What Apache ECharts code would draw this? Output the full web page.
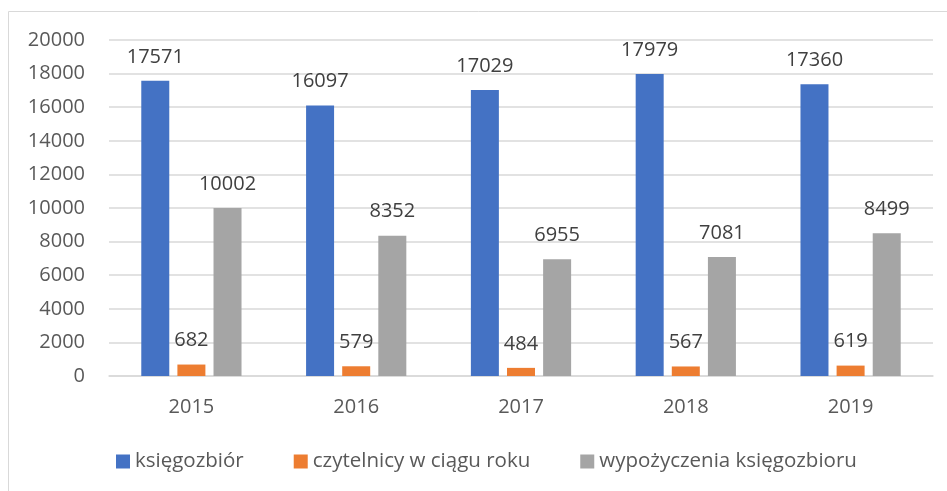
<!DOCTYPE html>
<html>
<head>
<meta charset="utf-8">
<script src="https://cdn.jsdelivr.net/npm/echarts@6/dist/echarts.min.js"></script>
<style>
  html, body { margin: 0; padding: 0; background: #fff; }
  #chart-container { width: 947px; height: 491px; }
</style>
</head>
<body>
<div id="chart-container"></div>
<script>
const years = ['2015', '2016', '2017', '2018', '2019']
const ksiegozbior = [17571, 16097, 17029, 17979, 17360]
const czytelnicy = [682, 579, 484, 567, 619]
const wypozyczenia = [10002, 8352, 6955, 7081, 8499]

const font = 'Open Sans'

const dom = document.getElementById('chart-container')
const myChart = echarts.init(dom, null, { renderer: 'canvas' })

const label = {
  show: true,
  position: 'top',
  distance: 14,
  fontFamily: font,
  fontSize: 20,
  color: '#404040'
}

const mkSeries = (name, color, data) => ({
  name,
  type: 'bar',
  barWidth: 28,
  barGap: '29%',
  itemStyle: { color },
  label,
  data
})

const options = {
  animation: false,
  graphic: [{
    type: 'rect',
    shape: { x: 8.5, y: 11.5, width: 1000, height: 600 },
    style: { fill: 'none', stroke: '#d9d9d9', lineWidth: 1 },
    silent: true
  }],
  grid: { left: 109, right: 14, top: 40, bottom: 115 },
  legend: {
    bottom: 14,
    left: 111,
    icon: 'rect',
    itemWidth: 14,
    itemHeight: 14,
    itemGap: 50,
    textStyle: { fontFamily: font, fontSize: 20.5, color: '#595959' },
    data: ['księgozbiór', 'czytelnicy w ciągu roku', 'wypożyczenia księgozbioru']
  },
  xAxis: {
    type: 'category',
    data: years,
    axisLine: { lineStyle: { color: '#d9d9d9', width: 1.5 } },
    axisTick: { show: false },
    axisLabel: { fontFamily: font, fontSize: 20, color: '#595959', margin: 21 }
  },
  yAxis: {
    type: 'value',
    min: 0,
    max: 20000,
    interval: 2000,
    axisLine: { show: false },
    axisTick: { show: false },
    splitLine: { lineStyle: { color: '#d9d9d9', width: 1.5 } },
    axisLabel: {
      fontFamily: font, fontSize: 20, color: '#595959', margin: 24,
      formatter: v => String(v)
    }
  },
  series: [
    mkSeries('księgozbiór', '#4472c4', ksiegozbior),
    mkSeries('czytelnicy w ciągu roku', '#ed7d31', czytelnicy),
    mkSeries('wypożyczenia księgozbioru', '#a5a5a5', wypozyczenia)
  ]
}

myChart.setOption(options)
window.addEventListener('resize', myChart.resize)
</script>
</body>
</html>
